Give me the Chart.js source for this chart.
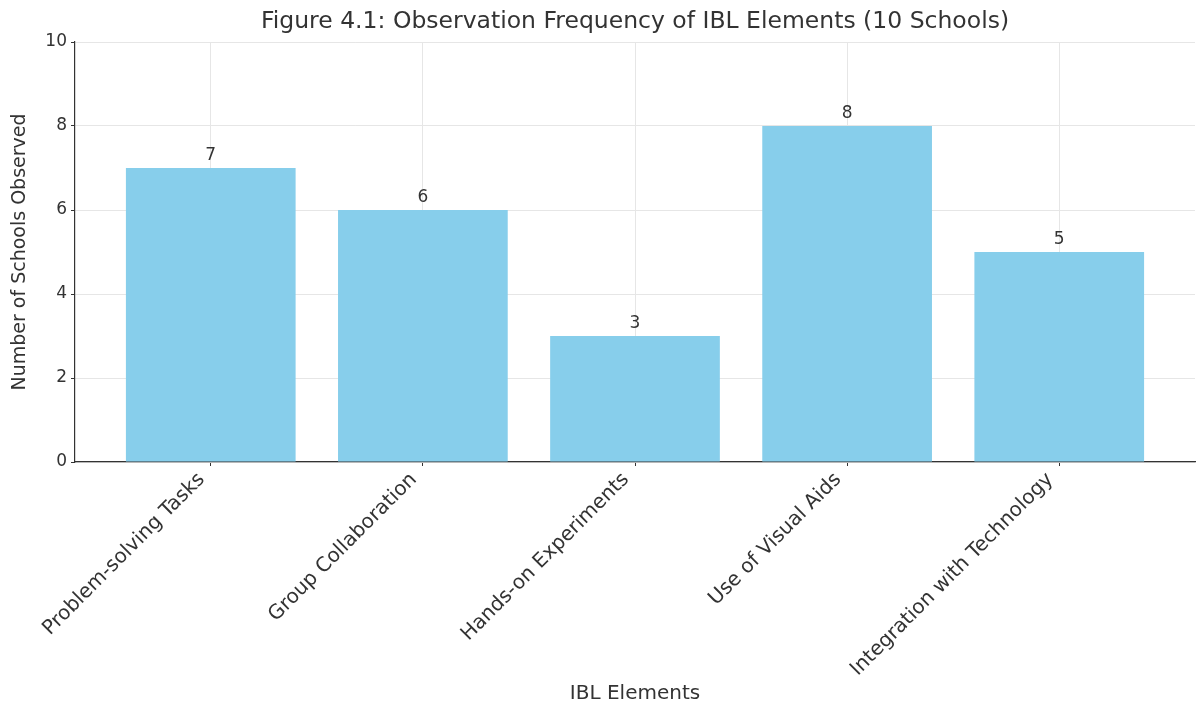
<!DOCTYPE html>
<html>
<head>
<meta charset="utf-8">
<script src="https://cdn.jsdelivr.net/npm/chart.js@4.4.1/dist/chart.umd.min.js"></script>
<style>
  html, body { margin: 0; padding: 0; background: #fff; }
  #wrap { width: 1198px; height: 709px; }
</style>
</head>
<body>
<div id="wrap"><canvas id="chart"></canvas></div>
<script>
// Data
const chartTitle = "Figure 4.1: Observation Frequency of IBL Elements (10 Schools)";
const categories = [
  "Problem-solving Tasks",
  "Group Collaboration",
  "Hands-on Experiments",
  "Use of Visual Aids",
  "Integration with Technology"
];
const schoolCounts = [7, 6, 3, 8, 5];
const yTicks = [0, 2, 4, 6, 8, 10];

const textColor = "#333333";
const fontFamily = "'DejaVu Sans', sans-serif";

// value labels above each bar
const valueLabels = {
  id: "valueLabels",
  afterDatasetsDraw(chart) {
    const ctx = chart.ctx;
    const meta = chart.getDatasetMeta(0);
    ctx.save();
    ctx.fillStyle = textColor;
    ctx.font = "17px " + fontFamily;
    ctx.textAlign = "center";
    ctx.textBaseline = "bottom";
    meta.data.forEach((bar, i) => {
      ctx.fillText(String(schoolCounts[i]), bar.x, bar.y - 4);
    });
    ctx.restore();
  }
};

// title centred over the plot area (like matplotlib), not the whole canvas
const plotTitle = {
  id: "plotTitle",
  afterDraw(chart) {
    const { ctx, chartArea } = chart;
    ctx.save();
    ctx.fillStyle = textColor;
    ctx.font = "23.5px " + fontFamily;
    ctx.textAlign = "center";
    ctx.textBaseline = "middle";
    ctx.fillText(chartTitle, (chartArea.left + chartArea.right) / 2, 22);
    ctx.restore();
  }
};

const ctx = document.getElementById("chart").getContext("2d");
new Chart(ctx, {
  type: "bar",
  data: {
    datasets: [{
      label: "Schools",
      data: schoolCounts.map((v, i) => ({ x: i, y: v })),
      backgroundColor: "#87CEEB",
      borderWidth: 0,
      barPercentage: 0.8,
      categoryPercentage: 1.0
    }]
  },
  options: {
    responsive: true,
    maintainAspectRatio: false,
    animation: false,
    layout: { padding: { left: 0, right: 3, top: 42, bottom: 0 } },
    plugins: {
      legend: { display: false },
      tooltip: { enabled: false },
      title: { display: false }
    },
    scales: {
      x: {
        type: "linear",
        offset: false,
        min: -0.64,
        max: 4.64,
        afterBuildTicks: (axis) => {
          axis.ticks = categories.map((_, i) => ({ value: i }));
        },
        afterFit: (scale) => { scale.height = 247; },
        ticks: {
          color: textColor,
          font: { family: fontFamily, size: 20 },
          maxRotation: 45,
          minRotation: 45,
          padding: 2,
          labelOffset: -9,
          callback: (value) => categories[value] ?? ""
        },
        grid: {
          offset: false,
          color: "#e6e6e6",
          tickColor: textColor,
          tickLength: 4
        },
        border: { color: textColor, width: 1.2 },
        title: {
          display: true,
          text: "IBL Elements",
          color: textColor,
          font: { family: fontFamily, size: 20 },
          padding: { top: 0, bottom: 3 }
        }
      },
      y: {
        min: 0,
        max: 10,
        afterBuildTicks: (axis) => {
          axis.ticks = yTicks.map((v) => ({ value: v }));
        },
        afterFit: (scale) => { scale.width = 75; },
        ticks: {
          color: textColor,
          font: { family: fontFamily, size: 17 },
          padding: 4
        },
        grid: {
          color: "#e6e6e6",
          tickColor: textColor,
          tickLength: 4
        },
        border: { color: textColor, width: 1.2 },
        title: {
          display: true,
          text: "Number of Schools Observed",
          color: textColor,
          font: { family: fontFamily, size: 19 },
          padding: { top: 9, bottom: 4 }
        }
      }
    }
  },
  plugins: [valueLabels, plotTitle]
});
</script>
</body>
</html>
